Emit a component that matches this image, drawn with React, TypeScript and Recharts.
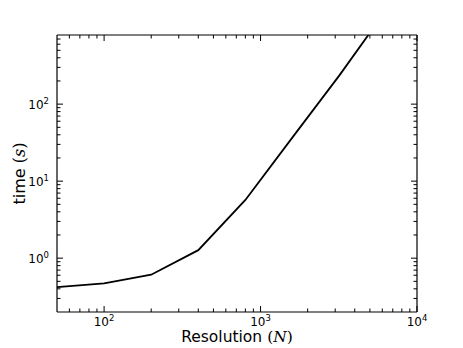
import { Label, Line, LineChart, XAxis, YAxis } from "recharts";

const resolution = [50, 100, 200, 400, 800, 1600, 3200, 6400];
const timeSeconds = [0.42, 0.47, 0.61, 1.27, 5.7, 37, 238, 1700];

const xMajorTicks = [100, 1000, 10000];
const xMinorTicks = [60, 70, 80, 90, 200, 300, 400, 500, 600, 700, 800, 900, 2000, 3000, 4000, 5000, 6000, 7000, 8000, 9000];
const yMajorTicks = [1, 10, 100];
const yMinorTicks = [0.3, 0.4, 0.5, 0.6, 0.7, 0.8, 0.9, 2, 3, 4, 5, 6, 7, 8, 9, 20, 30, 40, 50, 60, 70, 80, 90, 200, 300, 400, 500, 600, 700];

const data = resolution.map((n, i) => ({ n, t: timeSeconds[i] }));
const xTicks = [...xMinorTicks, ...xMajorTicks];
const yTicks = [...yMinorTicks, ...yMajorTicks];

const FONT = "'DejaVu Sans', sans-serif";
const MATH = "'DejaVu Serif', 'Liberation Serif', serif";

function PowerLabel({ x, y, value, anchor }: { x: number; y: number; value: number; anchor: "middle" | "end" }) {
  const exp = Math.round(Math.log10(value));
  return (
    <text x={x} y={y} textAnchor={anchor} fontFamily={FONT} fontSize={12} fill="#000">
      10
      <tspan dy={-5} fontSize={8.5}>
        {exp}
      </tspan>
    </text>
  );
}

function makeTick(side: "bottom" | "top" | "left" | "right", majors: number[]) {
  return (props: any) => {
    const { x, y, payload } = props;
    const major = majors.includes(payload.value);
    const len = major ? 6 : 3.5;
    if (side === "bottom") {
      return (
        <g>
          <line x1={x} x2={x} y1={y} y2={y - len} stroke="#000" strokeWidth={1} />
          {major && <PowerLabel x={x} y={y + 14} value={payload.value} anchor="middle" />}
        </g>
      );
    }
    if (side === "top") {
      return <line x1={x} x2={x} y1={y} y2={y + len} stroke="#000" strokeWidth={1} />;
    }
    if (side === "left") {
      return (
        <g>
          <line x1={x} x2={x + len} y1={y} y2={y} stroke="#000" strokeWidth={1} />
          {major && <PowerLabel x={x - 8} y={y + 5} value={payload.value} anchor="end" />}
        </g>
      );
    }
    return <line x1={x} x2={x - len} y1={y} y2={y} stroke="#000" strokeWidth={1} />;
  };
}

export default function App() {
  const axisLine = { stroke: "#000", strokeWidth: 1.2 };
  return (
    <div style={{ position: "absolute", left: 0, top: 0, width: 463, height: 348, background: "#fff" }}>
      <LineChart width={463} height={348} data={data} margin={{ top: 0, right: 0, bottom: 0, left: 0 }}>
        <XAxis
          dataKey="n"
          type="number"
          scale="log"
          domain={[50, 10000]}
          allowDataOverflow
          ticks={xTicks}
          interval={0}
          tickSize={0}
          tickMargin={0}
          tickLine={false}
          axisLine={axisLine}
          height={36}
          tick={makeTick("bottom", xMajorTicks)}
        >
          <Label
            content={(p: any) => {
              const vb = p.viewBox;
              return (
                <text x={vb.x + vb.width / 2} y={vb.y + 30} textAnchor="middle" fontFamily={FONT} fontSize={15.5} fill="#000">
                  Resolution{" "}
                  <tspan fontFamily={MATH}>(</tspan>
                  <tspan fontFamily={MATH} fontStyle="italic">N</tspan>
                  <tspan fontFamily={MATH}>)</tspan>
                </text>
              );
            }}
          />
        </XAxis>
        <XAxis
          xAxisId="top"
          orientation="top"
          dataKey="n"
          type="number"
          scale="log"
          domain={[50, 10000]}
          allowDataOverflow
          ticks={xTicks}
          interval={0}
          tickSize={0}
          tickMargin={0}
          tickLine={false}
          axisLine={axisLine}
          height={35}
          tick={makeTick("top", xMajorTicks)}
        />
        <YAxis
          type="number"
          scale="log"
          domain={[0.2, 790]}
          allowDataOverflow
          ticks={yTicks}
          interval={0}
          tickSize={0}
          tickMargin={0}
          tickLine={false}
          axisLine={axisLine}
          width={57}
          tick={makeTick("left", yMajorTicks)}
        >
          <Label
            content={(p: any) => {
              const vb = p.viewBox;
              const cx = vb.x + 25;
              const cy = vb.y + vb.height / 2;
              return (
                <text x={cx} y={cy} transform={`rotate(-90 ${cx} ${cy})`} textAnchor="middle" fontFamily={FONT} fontSize={16} fill="#000">
                  time{" "}
                  <tspan fontFamily={MATH}>(</tspan>
                  <tspan fontFamily={MATH} fontStyle="italic">s</tspan>
                  <tspan fontFamily={MATH}>)</tspan>
                </text>
              );
            }}
          />
        </YAxis>
        <YAxis
          yAxisId="right"
          orientation="right"
          type="number"
          scale="log"
          domain={[0.2, 790]}
          allowDataOverflow
          ticks={yTicks}
          interval={0}
          tickSize={0}
          tickMargin={0}
          tickLine={false}
          axisLine={axisLine}
          width={46}
          tick={makeTick("right", yMajorTicks)}
        />
        <Line dataKey="t" stroke="#000" strokeWidth={1.8} dot={false} isAnimationActive={false} />
      </LineChart>
    </div>
  );
}
